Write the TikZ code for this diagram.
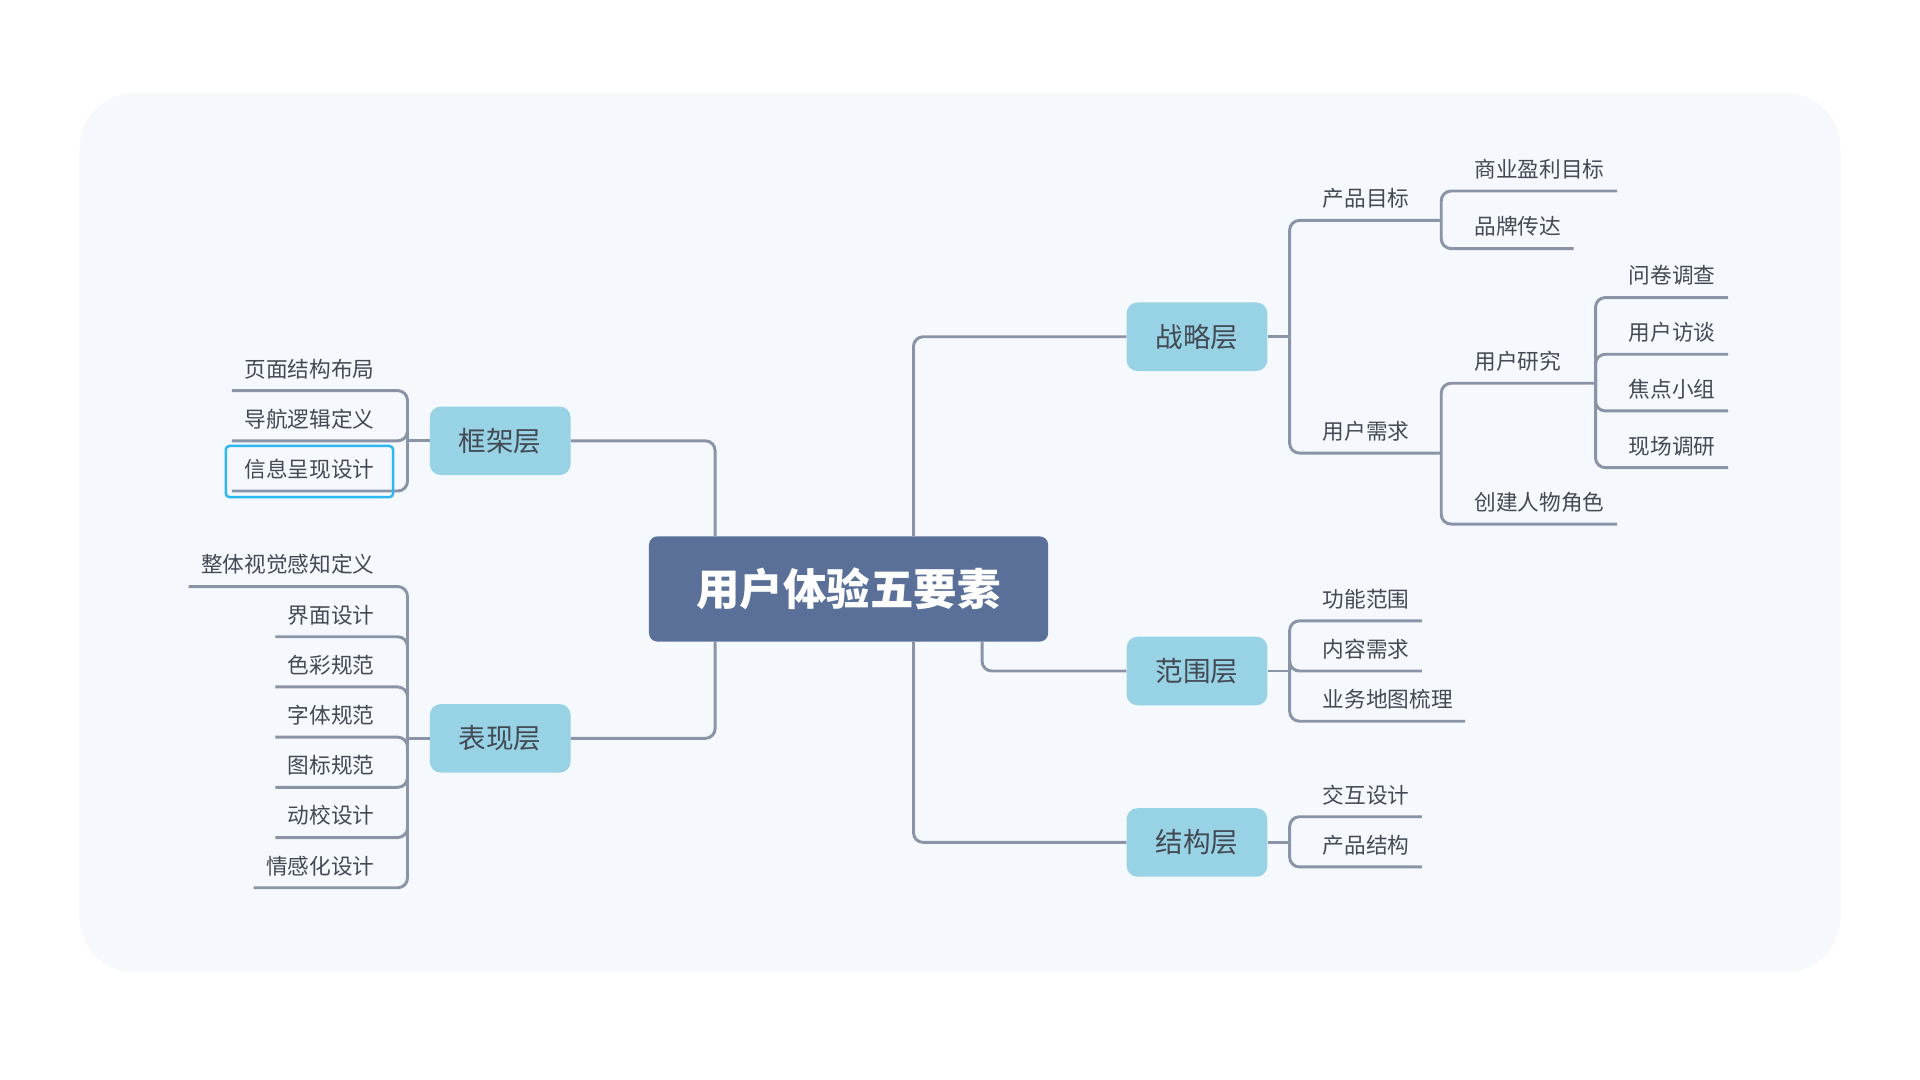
\documentclass[tikz,border=0pt]{standalone}
\usepackage{fontspec}
\setmainfont{Noto Sans CJK SC}
\usetikzlibrary{positioning,fit}
\definecolor{bgcol}{HTML}{F5F9FD}
\definecolor{linecol}{HTML}{8A94A6}
\definecolor{rootcol}{HTML}{5A7098}
\definecolor{layercol}{HTML}{97D2E5}
\definecolor{txtcol}{HTML}{434A53}
\definecolor{selcol}{HTML}{2DB7F5}
\tikzset{
  link/.style={draw=linecol, line width=2.4pt, rounded corners=8pt},
  root/.style={fill=rootcol, text=white, rounded corners=7pt, minimum width=326pt, minimum height=86pt, font=\fontsize{35.5}{40}\selectfont\bfseries},
  layer/.style={fill=layercol, text=txtcol, rounded corners=9pt, minimum width=115pt, minimum height=56pt, font=\fontsize{22.5}{26}\selectfont},
  leaf/.style={text=txtcol, inner xsep=10pt, inner ysep=6.5pt, text height=14pt, text depth=4.4pt, font=\fontsize{17.7}{20}\selectfont},
  rleaf/.style={leaf, anchor=south west},
  lleaf/.style={leaf, anchor=south east},
  sel/.style={draw=selcol, line width=2pt, rounded corners=3pt, inner sep=5pt}
}
\begin{document}
\begin{tikzpicture}[x=1pt,y=1pt]
\useasboundingbox (0,0) rectangle (1568,-882);
\fill[white] (0,0) rectangle (1568,-882);
\fill[bgcol, rounded corners=45pt] (65,-76) rectangle (1503,-794);

\node[root] (ux) at (693,-481) {用户体验五要素};
\node[layer] (zl) at (977.5,-275) {战略层};
\node[layer] (fw) at (977.5,-548) {范围层};
\node[layer] (jg) at (977.5,-688) {结构层};
\node[layer] (kj) at (408.5,-360) {框架层};
\node[layer] (bx) at (408.5,-603) {表现层};

\draw[link] ([xshift=53pt]ux.north) |- (zl.west);
\draw[link] ([xshift=53pt]ux.south) |- (jg.west);
\draw[link] ([xshift=109pt]ux.south) |- (fw.west);
\draw[link] ([xshift=-109pt]ux.north) |- (kj.east);
\draw[link] ([xshift=-109pt]ux.south) |- (bx.east);

% 战略层
\coordinate (zlj) at ([xshift=18pt]zl.east);
\draw[link] (zl.east) -- (zlj);
\node[rleaf] (cp) at (1070,-180) {产品目标};
\node[rleaf] (xq) at (1070,-370) {用户需求};
\coordinate (cpj) at (1177,-180);
\coordinate (xqj) at (1177,-370);
\draw[link] (zlj) |- (cpj);
\draw[link] (zlj) |- (xqj);
\node[rleaf] (sy) at (1194,-156) {商业盈利目标};
\node[rleaf] (pp) at (1194,-203) {品牌传达};
\draw[link] (cpj) |- (sy.south east);
\draw[link] (cpj) |- (pp.south east);
\node[rleaf] (yy) at (1194,-313) {用户研究};
\node[rleaf] (js) at (1194,-428) {创建人物角色};
\coordinate (yyj) at (1303,-313);
\draw[link] (xqj) |- (yyj);
\draw[link] (xqj) |- (js.south east);
\foreach \txt [count=\i] in {问卷调查,用户访谈,焦点小组,现场调研} {
    \node[rleaf] (yy\i) at (1320,{-243-46.3*(\i-1)}) {\txt};
    \draw[link] (yyj) |- (yy\i.south east);
}

% 范围层, 结构层
\coordinate (fwj) at ([xshift=18pt]fw.east);
\draw[link] (fw.east) -- (fwj);
\foreach \txt [count=\i] in {功能范围,内容需求,业务地图梳理} {
    \node[rleaf] (fw\i) at (1070,{-466-41*\i}) {\txt};
    \draw[link] (fwj) |- (fw\i.south east);
}
\coordinate (jgj) at ([xshift=18pt]jg.east);
\draw[link] (jg.east) -- (jgj);
\foreach \txt [count=\i] in {交互设计,产品结构} {
    \node[rleaf] (jg\i) at (1070,{-626-41*\i}) {\txt};
    \draw[link] (jgj) |- (jg\i.south east);
}

% 框架层, 表现层
\coordinate (kjj) at ([xshift=-18pt]kj.west);
\draw[link] (kj.west) -- (kjj);
\foreach \txt [count=\i] in {页面结构布局,导航逻辑定义,信息呈现设计} {
    \node[lleaf] (kj\i) at (316,{-278-41*\i}) {\txt};
    \draw[link] (kjj) |- (kj\i.south west);
}
\node[sel, fit=(kj3)] (kjsel) {};
\coordinate (bxj) at ([xshift=-18pt]bx.west);
\draw[link] (bx.west) -- (bxj);
\foreach \txt [count=\i] in {整体视觉感知定义,界面设计,色彩规范,字体规范,图标规范,动校设计,情感化设计} {
    \node[lleaf] (bx\i) at (316,{-438-41*\i}) {\txt};
    \draw[link] (bxj) |- (bx\i.south west);
}
\end{tikzpicture}
\end{document}
